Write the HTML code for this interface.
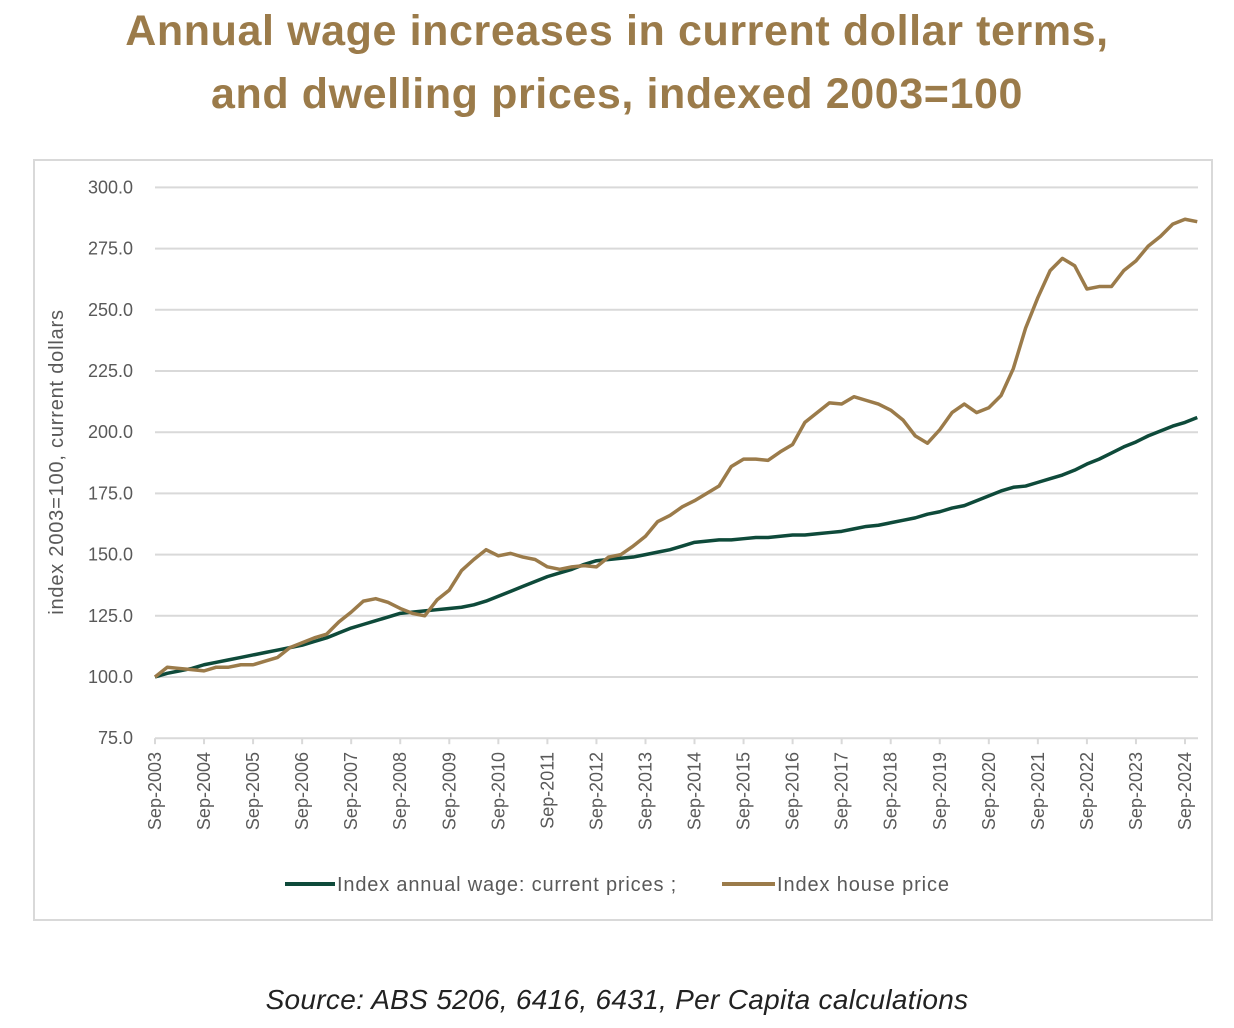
<!DOCTYPE html>
<html><head><meta charset="utf-8"><style>
body{margin:0;background:#fff;width:1234px;height:1028px;overflow:hidden;font-family:"Liberation Sans",sans-serif;}
.title{position:absolute;left:0;width:1234px;text-align:center;color:#9b7b4a;font-weight:bold;font-size:43px;letter-spacing:0.6px;line-height:63px;top:0;}
.src{position:absolute;left:0;width:1234px;text-align:center;top:984px;font-size:28px;font-style:italic;color:#222;letter-spacing:0.3px;}
</style></head><body>
<div class="title">Annual wage increases in current dollar terms,<br>and dwelling prices, indexed 2003=100</div>
<svg width="1234" height="1028" style="position:absolute;left:0;top:0">
<rect x="34" y="160" width="1178" height="760" fill="#fff" stroke="#d9d9d9" stroke-width="2"/>
<g id="grid"></g><g id="xax"></g><g id="lines"></g>
<text transform="translate(63,462) rotate(-90)" text-anchor="middle" font-size="20" letter-spacing="0.8" fill="#595959">index 2003=100, current dollars</text>
<line x1="285" y1="884" x2="335" y2="884" stroke="#0e4a3a" stroke-width="4"/>
<text x="337" y="891" font-size="20" letter-spacing="0.8" fill="#595959" textLength="340">Index annual wage: current prices ;</text>
<line x1="722" y1="884" x2="775" y2="884" stroke="#9b7b4a" stroke-width="4"/>
<text x="777" y="891" font-size="20" fill="#595959" textLength="172">Index house price</text>
</svg>
<div class="src">Source: ABS 5206, 6416, 6431, Per Capita calculations</div>
<script>
const yTicks=[75,100,125,150,175,200,225,250,275,300];
const xYears=[2003,2004,2005,2006,2007,2008,2009,2010,2011,2012,2013,2014,2015,2016,2017,2018,2019,2020,2021,2022,2023,2024];
const wage=[100,101.5,102.5,103.5,105,106,107,108,109,110,111,112,113,114.5,116,118,120,121.5,123,124.5,126,126.5,127,127.5,128,128.5,129.5,131,133,135,137,139,141,142.5,144,146,147.5,148,148.5,149,150,151,152,153.5,155,155.5,156,156,156.5,157,157,157.5,158,158,158.5,159,159.5,160.5,161.5,162,163,164,165,166.5,167.5,169,170,172,174,176,177.5,178,179.5,181,182.5,184.5,187,189,191.5,194,196,198.5,200.5,202.5,204,206];
const house=[100,104,103.5,103,102.5,104,104,105,105,106.5,108,112,114,116,117.5,122.5,126.5,131,132,130.5,128,126,125,131.5,135.5,143.5,148,152,149.5,150.5,149,148,145,144,145,145.5,145,149,150,153.5,157.5,163.5,166,169.5,172,175,178,186,189,189,188.5,192,195,204,208,212,211.5,214.5,213,211.5,209,205,198.5,195.5,201,208,211.5,208,210,215,226,242.5,255,266,271,268,258.5,259.5,259.5,266,270,276,280,285,287,286];
const NS="http://www.w3.org/2000/svg";
const y=v=>677-(v-100)*2.448;
const x=q=>155+q*(1030/84);
function mk(t,a,p){const e=document.createElementNS(NS,t);for(const k in a)e.setAttribute(k,a[k]);p.appendChild(e);return e;}
const g=document.getElementById('grid');
yTicks.forEach(v=>{
 const l=mk('line',{x1:155,x2:1198,y1:y(v),y2:y(v),stroke:'#d9d9d9','stroke-width':2},g);
 
 
 const t=mk('text',{x:133,y:y(v)+6,'text-anchor':'end','font-size':18,fill:'#595959'},g);
 t.textContent=v.toFixed(1);
 
 
});
const xa=document.getElementById('xax');
xYears.forEach((yr,i)=>{
 const xx=x(i*4);
 const tk=mk('line',{x1:xx,x2:xx,y1:y(75),y2:y(75)+6,stroke:'#d9d9d9','stroke-width':2},xa);
 
 
 const t=mk('text',{transform:`translate(${xx+6},752) rotate(-90)`,'text-anchor':'end','font-size':18,fill:'#595959'},xa);
 t.textContent='Sep-'+yr;
 
 
});
const lg=document.getElementById('lines');
const w=mk('polyline',{points:wage.map((v,i)=>x(i)+','+y(v)).join(' '),fill:'none',stroke:'#0e4a3a','stroke-width':3.5,'stroke-linejoin':'round'},lg);


const h=mk('polyline',{points:house.map((v,i)=>x(i)+','+y(v)).join(' '),fill:'none',stroke:'#9b7b4a','stroke-width':3.5,'stroke-linejoin':'round'},lg);


</script>
</body></html>
